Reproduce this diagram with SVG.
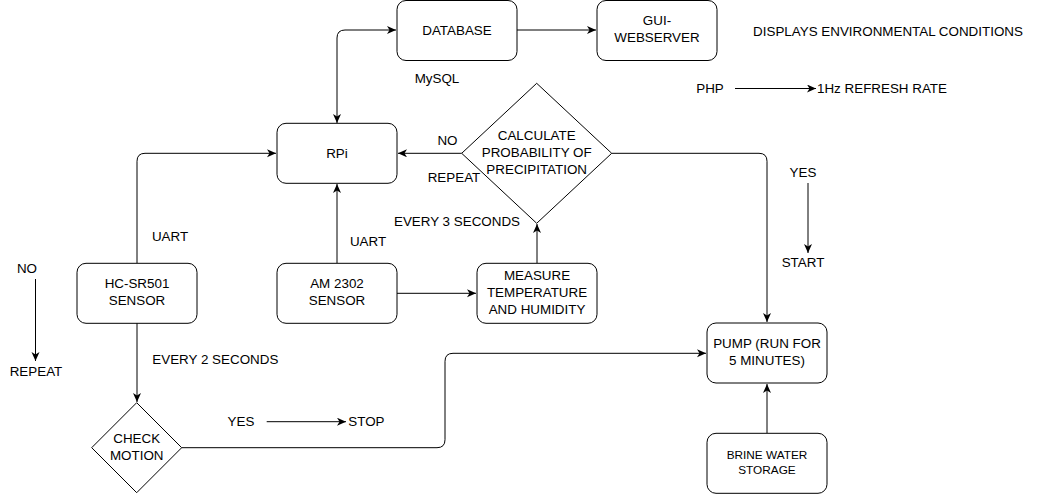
<svg xmlns="http://www.w3.org/2000/svg" width="1042" height="494" viewBox="0 0 1042 494">
<style>
.box{fill:#fff;stroke:#000;stroke-width:1}
.ln{fill:none;stroke:#000;stroke-width:1}
text{font-family:"Liberation Sans",Arial,sans-serif;font-size:13.4px;fill:#000}
.c{text-anchor:middle}
.sm{font-size:11.8px}
</style>
<defs>
<marker id="ah" markerUnits="userSpaceOnUse" markerWidth="10" markerHeight="10" refX="9" refY="4" orient="auto-start-reverse">
<path d="M0,0 L9,4 L0,8 L2.5,4 Z" fill="#000"/>
</marker>
</defs>
<rect width="1042" height="494" fill="#fff"/>
<g id="connectors">
<path class="ln" d="M337,123 L337,38 Q337,30 345,30 L396,30" marker-start="url(#ah)" marker-end="url(#ah)"/>
<path class="ln" d="M517,30 L596,30" marker-end="url(#ah)"/>
<path class="ln" d="M461.7,153.3 L398,153.3" marker-end="url(#ah)"/>
<path class="ln" d="M611.7,153.3 L759,153.3 Q767,153.3 767,161.3 L767,322" marker-end="url(#ah)"/>
<path class="ln" d="M767,433 L767,384" marker-end="url(#ah)"/>
<path class="ln" d="M137,263 L137,161.3 Q137,153.3 145,153.3 L276,153.3" marker-end="url(#ah)"/>
<path class="ln" d="M337,263 L337,184" marker-end="url(#ah)"/>
<path class="ln" d="M397,293.3 L476,293.3" marker-end="url(#ah)"/>
<path class="ln" d="M537,263 L537,224" marker-end="url(#ah)"/>
<path class="ln" d="M137,323 L137,402" marker-end="url(#ah)"/>
<path class="ln" d="M181.7,447.7 L437,447.7 Q445,447.7 445,439.7 L445,361.3 Q445,353.3 453,353.3 L706,353.3" marker-end="url(#ah)"/>
<path class="ln" d="M735,88.5 L816,88.5" marker-end="url(#ah)"/>
<path class="ln" d="M808,183 L808,253" marker-end="url(#ah)"/>
<path class="ln" d="M35.5,279 L35.5,361" marker-end="url(#ah)"/>
<path class="ln" d="M266.7,421.7 L346,421.7" marker-end="url(#ah)"/>
</g>
<g id="database"><rect class="box" x="397" y="0.5" width="120" height="60" rx="9"/><text class="c" x="457" y="34.5">DATABASE</text></g>
<g id="gui"><rect class="box" x="597" y="0.5" width="120" height="60" rx="9"/><text class="c" x="657" y="25">GUI-</text><text class="c" x="657" y="42">WEBSERVER</text></g>
<g id="rpi"><rect class="box" x="277" y="123.3" width="120" height="60" rx="9"/><text class="c" x="337" y="157.5">RPi</text></g>
<g id="calc"><polygon class="box" points="536.7,83.3 611.7,153.3 536.7,223.3 461.7,153.3"/><text class="c" x="536.7" y="140">CALCULATE</text><text class="c" x="536.7" y="157">PROBABILITY OF</text><text class="c" x="536.7" y="174">PRECIPITATION</text></g>
<g id="hcsr"><rect class="box" x="77" y="263.3" width="120" height="60" rx="9"/><text class="c" x="137" y="288">HC-SR501</text><text class="c" x="137" y="305">SENSOR</text></g>
<g id="am2302"><rect class="box" x="277" y="263.3" width="120" height="60" rx="9"/><text class="c" x="337" y="288">AM 2302</text><text class="c" x="337" y="305">SENSOR</text></g>
<g id="measure"><rect class="box" x="477" y="263.3" width="120" height="60" rx="9"/><text class="c" x="537" y="279.5">MEASURE</text><text class="c" x="537" y="296.5">TEMPERATURE</text><text class="c" x="537" y="313.5">AND HUMIDITY</text></g>
<g id="check"><polygon class="box" points="136.7,402.7 181.7,447.7 136.7,492.7 91.7,447.7"/><text class="c" x="136.7" y="443">CHECK</text><text class="c" x="136.7" y="459.5">MOTION</text></g>
<g id="pump"><rect class="box" x="707" y="323" width="120" height="60" rx="9"/><text class="c" x="767" y="348">PUMP (RUN FOR</text><text class="c" x="767" y="364.5">5 MINUTES)</text></g>
<g id="brine"><rect class="box" x="707" y="433.3" width="120" height="60" rx="9"/><text class="c sm" x="767" y="458.5">BRINE WATER</text><text class="c sm" x="767" y="474">STORAGE</text></g>
<g id="labels">
<text class="c" x="437" y="83">MySQL</text>
<text class="c" x="888" y="35.5">DISPLAYS ENVIRONMENTAL CONDITIONS</text>
<text class="c" x="710" y="93">PHP</text>
<text x="817" y="93">1Hz REFRESH RATE</text>
<text class="c" x="447.5" y="145">NO</text>
<text class="c" x="454" y="181.5">REPEAT</text>
<text class="c" x="457" y="226">EVERY 3 SECONDS</text>
<text class="c" x="803" y="177">YES</text>
<text class="c" x="803" y="267">START</text>
<text class="c" x="170" y="240.5">UART</text>
<text class="c" x="368" y="245.5">UART</text>
<text class="c" x="27" y="273">NO</text>
<text class="c" x="36" y="376">REPEAT</text>
<text x="152.3" y="364">EVERY 2 SECONDS</text>
<text class="c" x="241" y="426">YES</text>
<text x="348.3" y="426">STOP</text>
</g>
</svg>
